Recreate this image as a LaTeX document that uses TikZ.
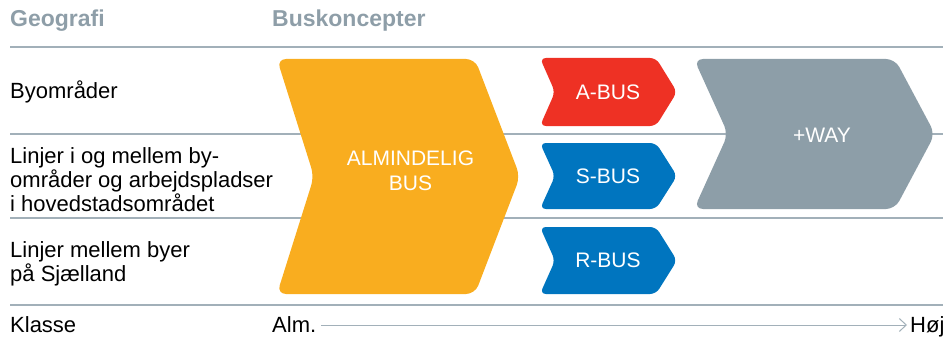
\documentclass[tikz,border=0pt]{standalone}
\usepackage{fontspec}
\setmainfont{Liberation Sans}
\usetikzlibrary{arrows.meta}
\definecolor{hdr}{HTML}{8E9EA8}
\definecolor{rulec}{HTML}{A2B0B9}
\definecolor{orng}{HTML}{F9AD1F}
\definecolor{redb}{HTML}{EE3124}
\definecolor{blueb}{HTML}{0075BF}
\definecolor{grayb}{HTML}{8D9EA8}
\begin{document}
\begin{tikzpicture}[x=1pt,y=-1pt,
  hline/.style={draw=rulec, line width=1.2pt},
  lbl/.style={anchor=base west, inner sep=0pt, font=\fontsize{22}{22}\selectfont},
  hdrtxt/.style={anchor=base west, inner sep=0pt, text=hdr, font=\fontsize{23}{23}\selectfont\bfseries},
  btxt/.style={text=white, inner sep=0pt, font=\fontsize{21}{25}\selectfont},
  bigchev/.style={rounded corners=9pt},
  smallchev/.style={rounded corners=6pt}]
\useasboundingbox (0,0) rectangle (943,337);

% horizontal rules
\coordinate (r1a) at (10,47);   \coordinate (r1b) at (943,47);
\coordinate (r2a) at (10,134);  \coordinate (r2b) at (943,134);
\coordinate (r3a) at (10,218);  \coordinate (r3b) at (943,218);
\coordinate (r4a) at (10,305);  \coordinate (r4b) at (943,305);
\draw[hline] (r1a) -- (r1b);
\draw[hline] (r2a) -- (r2b);
\draw[hline] (r3a) -- (r3b);
\draw[hline] (r4a) -- (r4b);

% headers
\node[hdrtxt] (geo) at (10,27) {Geografi};
\node[hdrtxt] (busk) at (272,27) {Buskoncepter};

% row labels
\node[lbl] (row1) at (10,99) {Byområder};
\node[lbl] (row2) at (10,163) {\begin{tabular}[t]{@{}l@{}}Linjer i og mellem by-\\områder og arbejdspladser\\i hovedstadsområdet\end{tabular}};
\node[lbl] (row3) at (10,257) {\begin{tabular}[t]{@{}l@{}}Linjer mellem byer\\på Sjælland\end{tabular}};

% orange chevron
\fill[orng, bigchev] (376,59) -- (277,59) -- (314,176.5) -- (277,294) -- (475,294) -- (520,176.5) -- (475,59) -- cycle;
\node[btxt, anchor=base] (alm) at (410.5,165) {\begin{tabular}[t]{@{}c@{}}ALMINDELIG\\BUS\end{tabular}};

% A-BUS
\fill[redb, smallchev] (600,58) -- (540,58) -- (555,92) -- (540,126) -- (656,126) -- (677,92) -- (656,58) -- cycle;
\node[btxt] (abus) at (608,92) {A-BUS};

% S-BUS
\fill[blueb, smallchev] (600,143) -- (540,143) -- (555,176) -- (540,209) -- (656,209) -- (677,176) -- (656,143) -- cycle;
\node[btxt] (sbus) at (608,176) {S-BUS};

% R-BUS
\fill[blueb, smallchev] (600,227) -- (540,227) -- (555,260.5) -- (540,294) -- (656,294) -- (677,260.5) -- (656,227) -- cycle;
\node[btxt] (rbus) at (608,260.5) {R-BUS};

% +WAY
\fill[grayb, bigchev] (800,59) -- (694,59) -- (728,134) -- (694,209) -- (895,209) -- (935,134) -- (895,59) -- cycle;
\node[btxt] (way) at (822,135) {+WAY};

% class axis
\node[lbl] (klasse) at (10,332) {Klasse};
\node[lbl] (almk) at (272,332) {Alm.};
\node[lbl] (hoej) at (910,332) {Høj};
\coordinate (ax1) at (321,325);
\coordinate (ax2) at (907,325);
\draw[rulec, line width=1pt, -{Straight Barb[length=7pt,width=13pt]}] (ax1) -- (ax2);
\end{tikzpicture}
\end{document}
